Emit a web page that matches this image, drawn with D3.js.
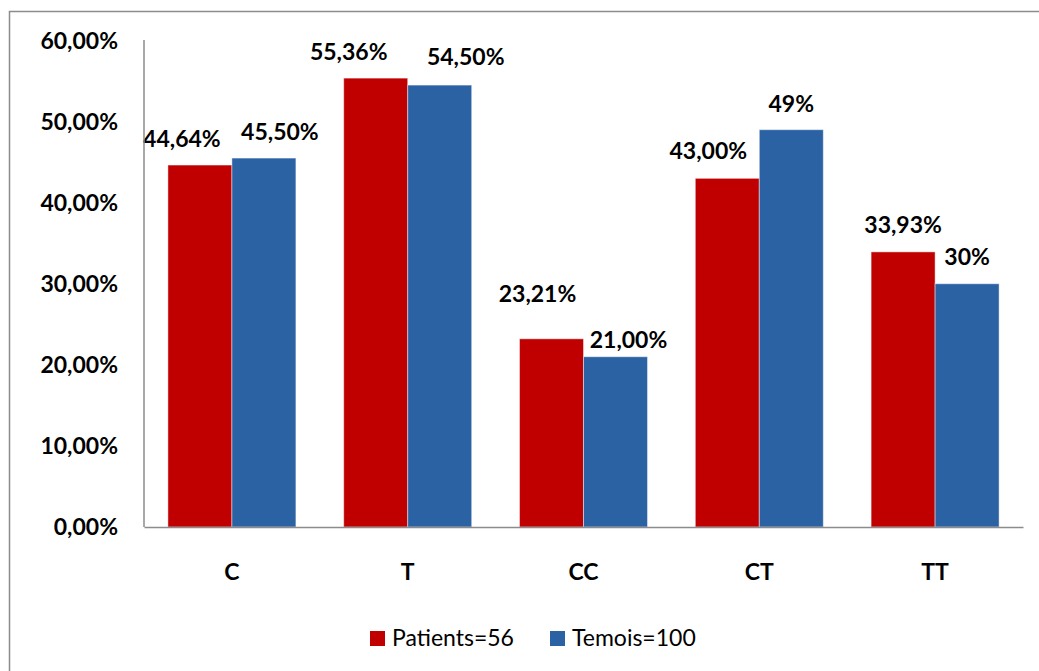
<!DOCTYPE html>
<html>
<head>
<meta charset="utf-8">
<script src="https://cdn.jsdelivr.net/npm/d3@7"></script>
<style>
  html, body { margin: 0; padding: 0; background: #fff; }
  svg { display: block; font-family: Lato, "Open Sans", sans-serif; }
</style>
</head>
<body>
<svg id="chart" width="1039" height="671"></svg>
<script>
// Allele / genotype frequencies (%)
const categories = ["C", "T", "CC", "CT", "TT"];
const seriesNames = ["Patients=56", "Temois=100"];
const patients = [44.64, 55.36, 23.21, 43.00, 33.93];
const temoins = [45.50, 54.50, 21.00, 49, 30];
// decimals shown in each value label
const patientsDecimals = [2, 2, 2, 2, 2];
const temoinsDecimals = [2, 2, 2, 0, 0];
const yTicks = [0, 10, 20, 30, 40, 50, 60];

// hand-placed label nudges (px): [dx, gap above bar]
const labelNudge = [
  [[-18, 18], [16, 18]],
  [[-27, 18], [26, 20]],
  [[-14, 37], [13, 8.5]],
  [[-19, 19], [0, 18]],
  [[0, 19], [0, 19]]
];

const colors = ["#C00000", "#2A62A4"];
const fmt = (v, d) => v.toFixed(d).replace(".", ",") + "%";

const svg = d3.select("#chart");

// outer chart frame
svg.append("rect")
  .attr("x", 9.5).attr("y", 11.5)
  .attr("width", 1040).attr("height", 680)
  .attr("fill", "none").attr("stroke", "#8c8c8c").attr("stroke-width", 1.5);

const plot = { left: 144, right: 1023, top: 40.5, bottom: 527 };

const y = d3.scaleLinear().domain([0, 60]).range([plot.bottom, plot.top]);
const x0 = d3.scaleBand().domain(categories)
  .range([plot.left, plot.right]).paddingInner(0.272).paddingOuter(0.136);
const x1 = d3.scaleBand().domain([0, 1]).range([0, x0.bandwidth()]);

const rows = categories.map((c, i) => ({
  cat: c,
  vals: [
    { s: 0, v: patients[i], d: patientsDecimals[i], n: labelNudge[i][0] },
    { s: 1, v: temoins[i], d: temoinsDecimals[i], n: labelNudge[i][1] }
  ]
}));

// bars
const groups = svg.append("g").selectAll("g").data(rows).join("g")
  .attr("transform", d => `translate(${x0(d.cat)},0)`);

groups.selectAll("rect").data(d => d.vals).join("rect")
  .attr("x", d => x1(d.s))
  .attr("y", d => y(d.v))
  .attr("width", x1.bandwidth())
  .attr("height", d => y(0) - y(d.v))
  .attr("fill", d => colors[d.s])
  .attr("stroke", "rgba(255,255,255,0.45)")
  .attr("stroke-width", 1);

// value labels
groups.selectAll("text").data(d => d.vals).join("text")
  .attr("x", d => x1(d.s) + x1.bandwidth() / 2 + d.n[0])
  .attr("y", d => y(d.v) - d.n[1])
  .attr("text-anchor", "middle")
  .attr("font-size", 23).attr("font-weight", 700).attr("fill", "#000")
  .text(d => fmt(d.v, d.d));

// y axis
const yAxis = svg.append("g")
  .attr("transform", `translate(${plot.left},0)`)
  .call(d3.axisLeft(y).tickValues(yTicks).tickSize(0).tickPadding(26)
    .tickFormat(v => fmt(v, 2)));
yAxis.select(".domain").attr("stroke", "#8c8c8c").attr("stroke-width", 1.5)
  .attr("d", `M0,${plot.bottom}V40`);
yAxis.selectAll("text")
  .attr("font-family", "Lato, sans-serif")
  .attr("font-size", 23).attr("font-weight", 700).attr("fill", "#000")
  .attr("dy", null).attr("y", 7.5);

// x axis
const xAxis = svg.append("g")
  .attr("transform", `translate(0,${plot.bottom})`)
  .call(d3.axisBottom(x0).tickSize(0).tickPadding(0));
xAxis.select(".domain").attr("stroke", "#8c8c8c").attr("stroke-width", 1.5);
xAxis.selectAll("text")
  .attr("font-family", "Lato, sans-serif")
  .attr("font-size", 23).attr("font-weight", 700).attr("fill", "#000")
  .attr("dy", null).attr("y", 53);

// legend
const legendX = [370, 550];
const legend = svg.append("g").selectAll("g").data(seriesNames).join("g")
  .attr("transform", (d, i) => `translate(${legendX[i]},631)`);
legend.append("rect").attr("width", 15).attr("height", 15)
  .attr("fill", (d, i) => colors[i]);
legend.append("text").attr("x", 22).attr("y", 15)
  .attr("font-size", 23).attr("fill", "#000")
  .text(d => d);
</script>
</body>
</html>
